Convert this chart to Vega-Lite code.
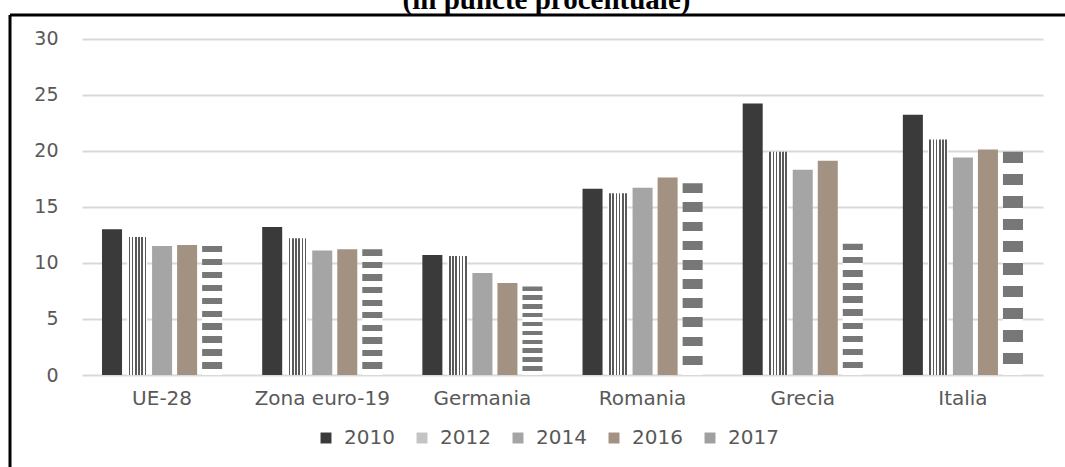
{
  "$schema": "https://vega.github.io/schema/vega-lite/v6.json",
  "width": 1055,
  "height": 452,
  "autosize": {"type": "none"},
  "padding": {"left": 10, "top": 15, "right": 0, "bottom": 0},
  "background": "white",
  "title": {
    "text": "(în puncte procentuale)",
    "font": "Liberation Serif",
    "fontWeight": "bold",
    "fontSize": 29,
    "color": "#000000",
    "anchor": "middle",
    "baseline": "alphabetic",
    "offset": -4,
    "dy": 19,
    "dx": 9
  },
  "config": {
    "view": {"stroke": "#000000", "strokeWidth": 3, "strokeDash": [1056, 1506, 452, 0]}
  },
  "data": {
    "values": [
      {"region": "UE-28", "year": "2010", "value": 13.0},
      {"region": "UE-28", "year": "2012", "value": 12.3},
      {"region": "UE-28", "year": "2014", "value": 11.5},
      {"region": "UE-28", "year": "2016", "value": 11.6},
      {"region": "UE-28", "year": "2017", "value": 11.5},
      {"region": "Zona euro-19", "year": "2010", "value": 13.2},
      {"region": "Zona euro-19", "year": "2012", "value": 12.2},
      {"region": "Zona euro-19", "year": "2014", "value": 11.1},
      {"region": "Zona euro-19", "year": "2016", "value": 11.2},
      {"region": "Zona euro-19", "year": "2017", "value": 11.2},
      {"region": "Germania", "year": "2010", "value": 10.7},
      {"region": "Germania", "year": "2012", "value": 10.6},
      {"region": "Germania", "year": "2014", "value": 9.1},
      {"region": "Germania", "year": "2016", "value": 8.2},
      {"region": "Germania", "year": "2017", "value": 7.9},
      {"region": "Romania", "year": "2010", "value": 16.6},
      {"region": "Romania", "year": "2012", "value": 16.2},
      {"region": "Romania", "year": "2014", "value": 16.7},
      {"region": "Romania", "year": "2016", "value": 17.6},
      {"region": "Romania", "year": "2017", "value": 17.1},
      {"region": "Grecia", "year": "2010", "value": 24.2},
      {"region": "Grecia", "year": "2012", "value": 19.9},
      {"region": "Grecia", "year": "2014", "value": 18.3},
      {"region": "Grecia", "year": "2016", "value": 19.1},
      {"region": "Grecia", "year": "2017", "value": 11.7},
      {"region": "Italia", "year": "2010", "value": 23.2},
      {"region": "Italia", "year": "2012", "value": 21.0},
      {"region": "Italia", "year": "2014", "value": 19.4},
      {"region": "Italia", "year": "2016", "value": 20.1},
      {"region": "Italia", "year": "2017", "value": 19.9}
    ]
  },
  "mark": {"type": "bar"},
  "encoding": {
    "x": {
      "field": "region",
      "type": "nominal",
      "sort": ["UE-28", "Zona euro-19", "Germania", "Romania", "Grecia", "Italia"],
      "scale": {"range": [72, 1033], "paddingInner": 0, "paddingOuter": 0},
      "axis": {
        "title": null,
        "orient": "bottom",
        "offset": -92,
        "domain": false,
        "ticks": false,
        "grid": false,
        "labelAngle": 0,
        "labelPadding": 13,
        "labelFont": "DejaVu Sans",
        "labelFontSize": 20,
        "labelColor": "#595959"
      }
    },
    "xOffset": {
      "field": "year",
      "type": "nominal",
      "sort": ["2010", "2012", "2014", "2016", "2017"],
      "scale": {"paddingInner": 0.2, "paddingOuter": 0.8}
    },
    "y": {
      "field": "value",
      "type": "quantitative",
      "scale": {"domain": [0, 30], "range": [360, 23.5], "nice": false, "zero": true},
      "axis": {
        "title": null,
        "orient": "left",
        "offset": -72,
        "values": [0, 5, 10, 15, 20, 25, 30],
        "domain": false,
        "ticks": false,
        "grid": true,
        "gridColor": "#d9d9d9",
        "gridWidth": 2,
        "labelPadding": 24,
        "labelFont": "DejaVu Sans",
        "labelFontSize": 19,
        "labelColor": "#595959"
      }
    },
    "fill": {
      "field": "year",
      "type": "nominal",
      "scale": {
        "domain": ["2010", "2012", "2014", "2016", "2017"],
        "range": ["#3a3a3a", "#c4c4c4", "#a5a5a5", "#a39282", "#a0a0a0"]
      },
      "legend": {
        "orient": "none",
        "legendX": 306,
        "legendY": 413,
        "direction": "horizontal",
        "columns": 5,
        "title": null,
        "symbolType": "square",
        "symbolSize": 120,
        "symbolStrokeWidth": 0,
        "labelFont": "DejaVu Sans",
        "labelFontSize": 20,
        "labelColor": "#595959",
        "labelOffset": 8,
        "columnPadding": 17
      },
      "condition": [
        {
          "test": "datum.year === '2012'",
          "value": {
            "gradient": "linear",
            "x1": 0, "y1": 0, "x2": 1, "y2": 0,
            "stops": [
              {"offset": 0, "color": "#ffffff"},
              {"offset": 0.08, "color": "#ffffff"},
              {"offset": 0.08, "color": "#5a5a5a"},
              {"offset": 0.16, "color": "#5a5a5a"},
              {"offset": 0.16, "color": "#ffffff"},
              {"offset": 0.24, "color": "#ffffff"},
              {"offset": 0.24, "color": "#5a5a5a"},
              {"offset": 0.32, "color": "#5a5a5a"},
              {"offset": 0.32, "color": "#ffffff"},
              {"offset": 0.40, "color": "#ffffff"},
              {"offset": 0.40, "color": "#5a5a5a"},
              {"offset": 0.48, "color": "#5a5a5a"},
              {"offset": 0.48, "color": "#ffffff"},
              {"offset": 0.56, "color": "#ffffff"},
              {"offset": 0.56, "color": "#5a5a5a"},
              {"offset": 0.64, "color": "#5a5a5a"},
              {"offset": 0.64, "color": "#ffffff"},
              {"offset": 0.72, "color": "#ffffff"},
              {"offset": 0.72, "color": "#5a5a5a"},
              {"offset": 0.80, "color": "#5a5a5a"},
              {"offset": 0.80, "color": "#ffffff"},
              {"offset": 0.88, "color": "#ffffff"},
              {"offset": 0.88, "color": "#5a5a5a"},
              {"offset": 0.96, "color": "#5a5a5a"},
              {"offset": 0.96, "color": "#ffffff"},
              {"offset": 1, "color": "#ffffff"}
            ]
          }
        },
        {
          "test": "datum.year === '2017'",
          "value": {
            "gradient": "linear",
            "x1": 0, "y1": 0, "x2": 0, "y2": 1,
            "stops": [
              {"offset": 0, "color": "#777777"},
              {"offset": 0.05, "color": "#777777"},
              {"offset": 0.05, "color": "#ffffff"},
              {"offset": 0.1, "color": "#ffffff"},
              {"offset": 0.1, "color": "#777777"},
              {"offset": 0.15, "color": "#777777"},
              {"offset": 0.15, "color": "#ffffff"},
              {"offset": 0.2, "color": "#ffffff"},
              {"offset": 0.2, "color": "#777777"},
              {"offset": 0.25, "color": "#777777"},
              {"offset": 0.25, "color": "#ffffff"},
              {"offset": 0.3, "color": "#ffffff"},
              {"offset": 0.3, "color": "#777777"},
              {"offset": 0.35, "color": "#777777"},
              {"offset": 0.35, "color": "#ffffff"},
              {"offset": 0.4, "color": "#ffffff"},
              {"offset": 0.4, "color": "#777777"},
              {"offset": 0.45, "color": "#777777"},
              {"offset": 0.45, "color": "#ffffff"},
              {"offset": 0.5, "color": "#ffffff"},
              {"offset": 0.5, "color": "#777777"},
              {"offset": 0.55, "color": "#777777"},
              {"offset": 0.55, "color": "#ffffff"},
              {"offset": 0.6, "color": "#ffffff"},
              {"offset": 0.6, "color": "#777777"},
              {"offset": 0.65, "color": "#777777"},
              {"offset": 0.65, "color": "#ffffff"},
              {"offset": 0.7, "color": "#ffffff"},
              {"offset": 0.7, "color": "#777777"},
              {"offset": 0.75, "color": "#777777"},
              {"offset": 0.75, "color": "#ffffff"},
              {"offset": 0.8, "color": "#ffffff"},
              {"offset": 0.8, "color": "#777777"},
              {"offset": 0.85, "color": "#777777"},
              {"offset": 0.85, "color": "#ffffff"},
              {"offset": 0.9, "color": "#ffffff"},
              {"offset": 0.9, "color": "#777777"},
              {"offset": 0.95, "color": "#777777"},
              {"offset": 0.95, "color": "#ffffff"},
              {"offset": 1, "color": "#ffffff"}
            ]
          }
        }
      ]
    }
  }
}
